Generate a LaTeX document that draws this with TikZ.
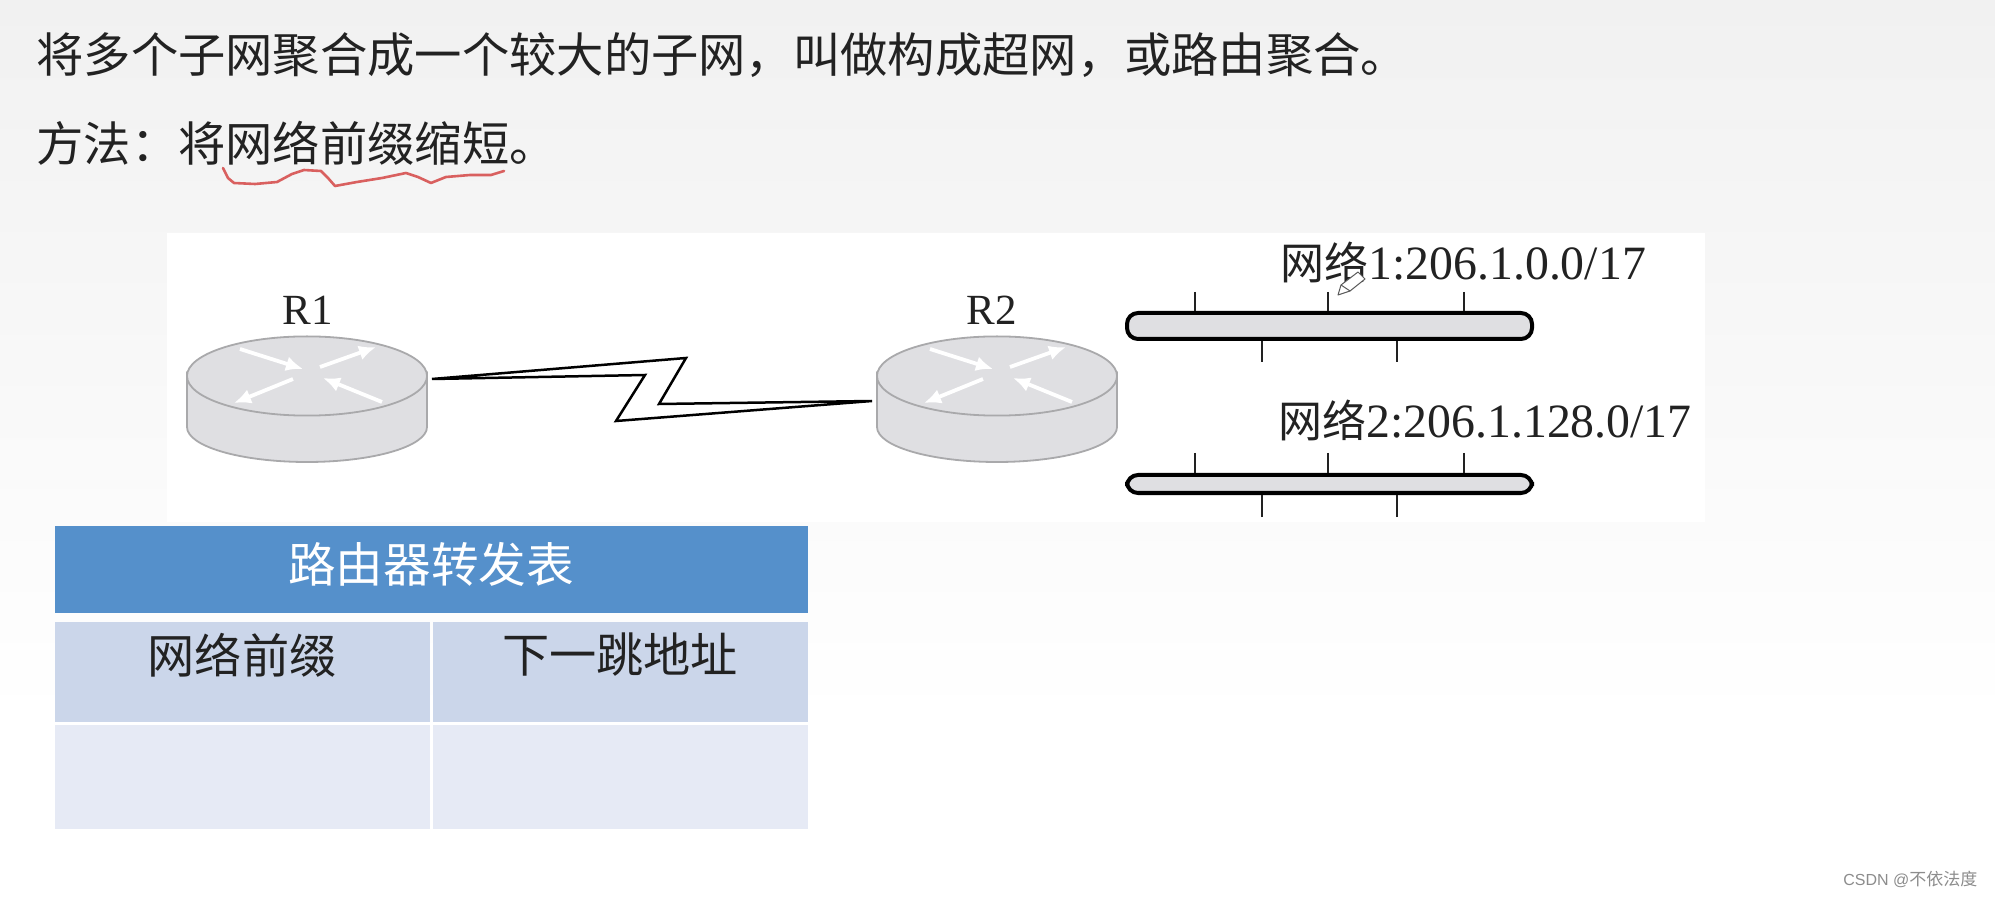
\documentclass[tikz,border=0pt]{standalone}
\usepackage{fontspec}
\setmainfont{Liberation Serif}
\setsansfont{Liberation Sans}
\newfontfamily\cjk{Noto Sans CJK SC}
\usetikzlibrary{arrows.meta,calc,shapes.misc}
\definecolor{routerfill}{HTML}{DFDFE2}
\definecolor{routerline}{HTML}{A9A9AB}
\definecolor{headblue}{HTML}{5590CB}
\definecolor{rowone}{HTML}{CBD6EA}
\definecolor{rowtwo}{HTML}{E6EAF5}
\definecolor{inkred}{HTML}{D9605F}
\definecolor{inkdark}{HTML}{222222}
\definecolor{bgtop}{HTML}{F1F1F1}
\tikzset{
  x=0.5pt,y=-0.5pt,
  bodytext/.style={anchor=west,inner sep=0pt,text=inkdark,font=\cjk\fontsize{23.65}{28}\selectfont},
  celltext/.style={anchor=center,inner sep=0pt,text=inkdark,font=\cjk\fontsize{23.6}{28}\selectfont},
  headtext/.style={anchor=center,inner sep=0pt,text=white,font=\cjk\fontsize{23.8}{28}\selectfont},
  netlabel/.style={anchor=west,inner sep=0pt,text=inkdark,font=\fontsize{23.9}{28}\selectfont},
  routerlabel/.style={anchor=center,inner sep=0pt,text=inkdark,font=\fontsize{21.5}{26}\selectfont},
  routerbody/.style={fill=routerfill,draw=routerline,line width=0.9pt,line join=round},
  flowarrow/.style={draw=white,line width=1.9pt,-{Latex[length=8.5pt,width=7.5pt]}},
  routerbox/.style={inner sep=0pt,minimum width=120pt,minimum height=63pt},
  netbar/.style={draw=black,fill=routerfill,line width=2pt,rounded corners=5.5pt,inner sep=0pt,minimum width=202.5pt},
  nettick/.style={draw=inkdark,line width=1pt},
  zigzag/.style={draw=black,line width=1.25pt,line join=miter,miter limit=3},
  scribble/.style={draw=inkred,line width=1.3pt,line join=round,line cap=round},
}
\newcommand{\routerdraw}[1]{%
  \path[routerbody] (#1-120,372) -- (#1-120,427)
    arc[start angle=180,end angle=360,x radius=60pt,y radius=17.5pt]
    -- (#1+120,372) arc[start angle=0,end angle=-180,x radius=60pt,y radius=17.5pt] -- cycle;
  \path[routerbody] (#1,376) ellipse[x radius=60pt,y radius=19.8pt];
  \draw[flowarrow] (#1-67,349) -- (#1-4,369);
  \draw[flowarrow] (#1+13,367) -- (#1+69,347);
  \draw[flowarrow] (#1-14,379) -- (#1-73,403);
  \draw[flowarrow] (#1+75,402) -- (#1+16,378);
}
\begin{document}
\begin{tikzpicture}
\useasboundingbox (0,0) rectangle (1995,897);
\fill[white] (0,0) rectangle (1995,897);
\shade[top color=bgtop,bottom color=white] (0,0) rectangle (1995,720);
% heading text
\node[bodytext] (line1) at (36,55) {将多个子网聚合成一个较大的子网，叫做构成超网，或路由聚合。};
\node[bodytext] (line2) at (36,143) {方法：将网络前缀缩短。};
\draw[scribble] (223,168) -- (228,178) -- (234,183) -- (255,184) -- (277,182) -- (292,174) -- (304,170) -- (321,171) -- (328,178) -- (335,186) -- (357,182) -- (382,178) -- (406,173) -- (418,177) -- (431,183) -- (446,177) -- (470,175) -- (491,175) -- (504,171);
% white figure panel
\fill[white] (167,233) rectangle (1705,522);
% routers
\routerdraw{307}
\routerdraw{997}
\node[routerbox] (R1) at (307,399) {};
\node[routerbox] (R2) at (997,399) {};
\node[routerlabel] (R1text) at (308,310) {R1};
\node[routerlabel] (R2text) at (992,310) {R2};
% serial link
\coordinate (linkA) at (432,379);
\coordinate (linkB) at (872,401);
\draw[zigzag] (linkA) -- (686,358) -- (659,404) -- (linkB) -- (616,421) -- (645,375) -- cycle;
% networks
\node[netbar,minimum height=13pt] (net1) at (1329.5,326) {};
\node[netbar,minimum height=9pt] (net2) at (1329.5,484) {};
\foreach \tx in {1195,1328,1464}{
  \draw[nettick] (\tx,292) -- (\tx,0 |- net1.north);
  \draw[nettick] (\tx,453) -- (\tx,0 |- net2.north);
}
\foreach \tx in {1262,1396.5}{
  \draw[nettick] (\tx,362) -- (\tx,0 |- net1.south);
  \draw[nettick] (\tx,517) -- (\tx,0 |- net2.south);
}
\node[netlabel] (net1text) at (1280,262) {{\cjk\fontsize{22}{28}\selectfont 网络}1:206.1.0.0/17};
\node[netlabel] (net2text) at (1278,420) {{\cjk\fontsize{22}{28}\selectfont 网络}2:206.1.128.0/17};
% pen cursor
\draw[draw=black!65,fill=white,line width=0.5pt,line join=round] (1338,295) -- (1341,285) -- (1358,272) -- (1365,279) -- (1350,291) -- cycle;
\draw[draw=black!65,line width=0.5pt] (1341,285) -- (1350,291);
% table
\fill[headblue] (54.5,526) rectangle (808,613);
\fill[rowone] (54.5,622) rectangle (429.5,722);
\fill[rowone] (433,622) rectangle (808,722);
\fill[rowtwo] (54.5,725) rectangle (429.5,829);
\fill[rowtwo] (433,725) rectangle (808,829);
\node[headtext] (tabletitle) at (431,564) {路由器转发表};
\node[celltext] (col1) at (242,655) {网络前缀};
\node[celltext] (col2) at (620,655) {下一跳地址};
% watermark
\node[anchor=west,inner sep=0pt,text=black!45,font=\sffamily\fontsize{8}{10}\selectfont] (mark) at (1843,879) {CSDN @{\cjk\fontsize{8.5}{10}\selectfont 不依法度}};
\end{tikzpicture}
\end{document}
